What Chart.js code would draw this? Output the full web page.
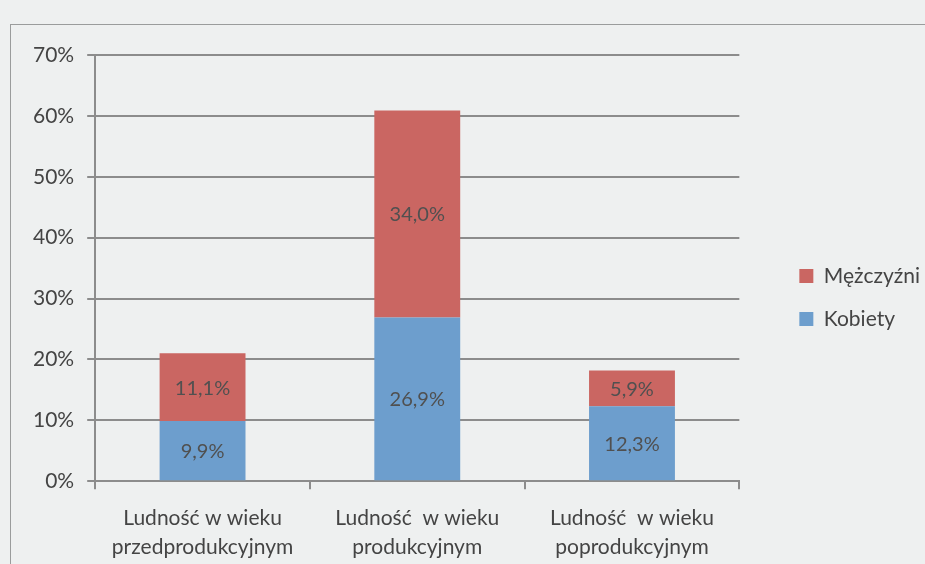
<!DOCTYPE html>
<html><head><meta charset="utf-8">
<script src="https://cdn.jsdelivr.net/npm/chart.js@4/dist/chart.umd.min.js"></script>
<style>
html,body{margin:0;padding:0;background:#eef0f0;}
#wrap{position:absolute;left:0;top:0;width:925px;height:564px;}
#frame{position:absolute;left:10px;top:24px;width:930px;height:560px;border-left:1.5px solid #9a9c9c;border-top:1.5px solid #9a9c9c;}
canvas{position:absolute;left:0;top:0;}
</style></head><body>
<div id="wrap"><div id="frame"></div><canvas id="c" width="925" height="564"></canvas></div>
<script>
const categories = [["Ludność w wieku","przedprodukcyjnym"],["Ludność  w wieku","produkcyjnym"],["Ludność  w wieku","poprodukcyjnym"]];
const kobiety = [9.9, 26.9, 12.3];
const mezczyzni = [11.1, 34.0, 5.9];
const seriesNames = ["Kobiety","Mężczyźni"];
const yTicks = [0,10,20,30,40,50,60,70];

const FONT = "Lato, 'Open Sans', sans-serif";
const LEGEND_SHIFT_X = 38;
const LEGEND_SHIFT_Y = -18;
const labelPlugin = {
  id:'barLabels',
  afterLayout(chart){
    const lg = chart.legend;
    if(lg){ lg.left += LEGEND_SHIFT_X; lg.right += LEGEND_SHIFT_X; lg.top += LEGEND_SHIFT_Y; lg.bottom += LEGEND_SHIFT_Y; }
  },
  afterDatasetsDraw(chart){
    const ctx = chart.ctx;
    ctx.save();
    ctx.fillStyle = '#505050';
    ctx.font = '20px ' + FONT;
    ctx.textAlign = 'center';
    ctx.textBaseline = 'middle';
    chart.data.datasets.forEach((ds,i)=>{
      const meta = chart.getDatasetMeta(i);
      meta.data.forEach((bar,j)=>{
        const p = bar.getCenterPoint();
        ctx.fillText(ds.data[j].toFixed(1).replace('.',',')+'%', p.x, p.y+1);
      });
    });
    ctx.restore();
  }
};

new Chart(document.getElementById('c'),{
  type:'bar',
  data:{
    labels:categories,
    datasets:[
      {label:seriesNames[0],data:kobiety,backgroundColor:'#6d9ecd',categoryPercentage:1,barPercentage:0.4},
      {label:seriesNames[1],data:mezczyzni,backgroundColor:'#ca6662',categoryPercentage:1,barPercentage:0.4}
    ]
  },
  options:{
    responsive:false,animation:false,
    layout:{padding:{left:20,top:55,right:33,bottom:-12}},
    plugins:{
      tooltip:{enabled:false},
      legend:{position:'right',align:'center',reverse:true,
        labels:{boxWidth:14,boxHeight:14,color:'#444',padding:22,font:{size:21,family:FONT}}}
    },
    scales:{
      x:{stacked:true,
        grid:{display:true,drawOnChartArea:false,drawTicks:true,tickLength:8,offset:true,color:'#8c8c8c',lineWidth:2},
        border:{display:true,color:'#8c8c8c',width:2},
        ticks:{color:'#444',font:{size:21,family:FONT,lineHeight:1.4},padding:14,maxRotation:0}},
      y:{stacked:true,min:0,max:70,
        afterBuildTicks(ax){ax.ticks = yTicks.map(v=>({value:v}));},
        grid:{color:'#8c8c8c',lineWidth:2,tickLength:8},
        border:{display:true,color:'#8c8c8c',width:2},
        ticks:{color:'#444',font:{size:21,family:FONT},padding:13,callback:v=>v+'%'}}
    }
  },
  plugins:[labelPlugin]
});
</script></body></html>
